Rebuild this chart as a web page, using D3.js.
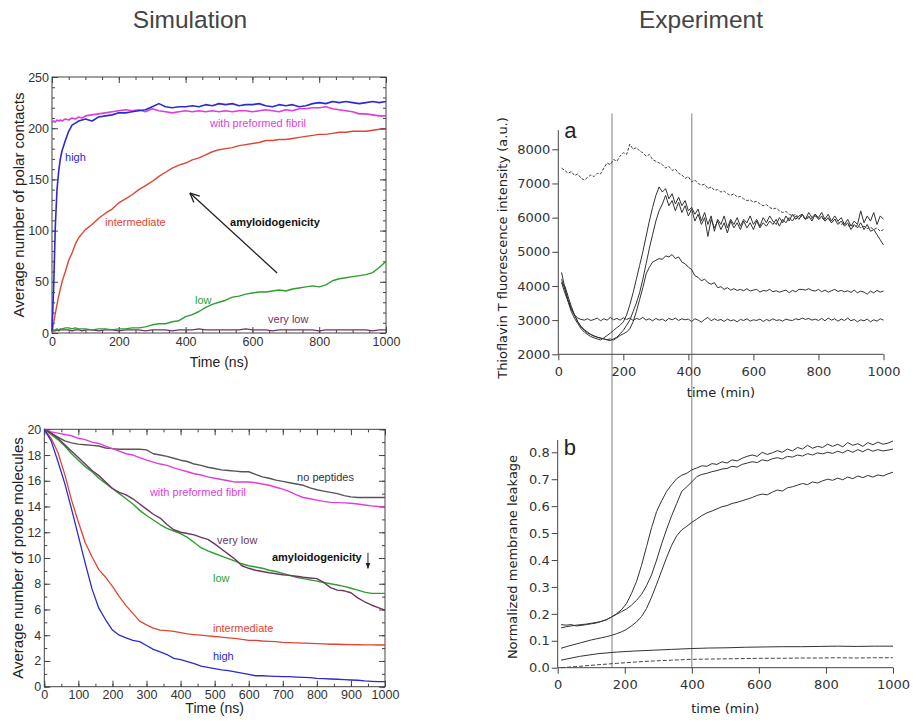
<!DOCTYPE html>
<html>
<head>
<meta charset="utf-8">
<script src="https://cdn.jsdelivr.net/npm/d3@7"></script>
<style>
  body { margin: 0; background: #fff; }
  svg { display: block; }
</style>
</head>
<body>
<svg id="fig" width="913" height="727"></svg>
<script>
// ---------- Simulation: polar contacts (ns) ----------
const contactTime = [0, 5, 10, 15, 20, 25, 30, 40, 50, 60, 70, 80, 90, 100].concat(d3.range(120, 1001, 20));
const contactHigh = [2,45,105,140,158,170,178,188,197,203,205,207,208,209,
  207,211,212,213,215,215,216,217,218,221, 224,221,220,221,221,222,221,223,222,224,
  223,224,222,223,223,224,222,221,223,222, 223,221,222,224,225,224,226,225,226,225,
  224,225,226,225,226];
const contactFibril = [206,207,206,208,207,208,207,209,208,210,209,211,210,212,
  213,214,215,216,217,218,217,218,216,219, 217,216,215,216,217,216,217,216,217,216,
  217,216,217,217,216,217,218,217,216,218, 217,219,219,220,220,221,219,218,217,216,
  214,214,213,212,212];
const contactInter = [0,10,19,28,36,43,50,60,71,78,87,93,97,101,
  106,112,117,121,127,131,135,140,144,148, 153,157,161,164,166,169,171,174,177,179,
  180,181,183,184,185,186,188,188,189,189, 190,191,192,193,194,194,195,196,196,197,
  197,197,198,199,199];
const contactLow = [2,3,3,4,3,4,4,5,5,4,5,4,4,4,
  3,4,4,3,4,4,5,5,6,8, 9,9,11,12,16,18,21,25,28,30,
  32,35,36,38,39,40,40,41,42,41, 43,44,45,46,45,47,51,53,54,55,
  56,57,59,64,70];
const contactVeryLow = [1,2,2,3,2,3,3,3,3,2,3,3,2,3,
  3,2,3,3,2,3,3,3,2,3, 3,3,2,3,3,3,4,3,3,3,
  3,3,3,4,3,3,3,2,3,3, 3,3,3,3,2,3,3,3,3,3,
  3,3,2,3,3];

// ---------- Simulation: probe molecules (ns) ----------
const probeTime = d3.range(0, 1001, 20);
const probeHigh = [20,19.1,17.5,15.8,13.8,11.7,9.6,7.6,6.1,5.2,
  4.4,4.0,3.8,3.6,3.5,3.2,2.9,2.7,2.5,2.2, 2.1,1.95,1.8,1.6,1.5,1.4,1.3,1.25,1.15,1.05,
  0.95,0.85,0.85,0.82,0.8,0.78,0.78,0.75,0.72,0.7, 0.65,0.62,0.6,0.58,0.55,0.52,0.5,0.45,0.42,0.4, 0.4];
const probeInter = [20,19.3,18.2,16.5,14.5,12.8,11.2,10.1,9.1,8.5,
  7.8,7.0,6.3,5.7,5.1,4.8,4.55,4.4,4.35,4.3, 4.2,4.1,4.05,4.0,3.95,3.9,3.85,3.8,3.75,3.68,
  3.6,3.6,3.55,3.52,3.5,3.45,3.42,3.4,3.38,3.36, 3.34,3.32,3.3,3.3,3.28,3.27,3.26,3.25,3.25,3.24, 3.24];
const probeLow = [20,19.6,19.2,18.7,18.1,17.6,17.1,16.7,16.2,15.8,
  15.4,15.0,14.6,14.2,13.7,13.3,12.95,12.6,12.3,12.1, 11.9,11.6,11.2,10.8,10.55,10.35,10.15,9.95,9.75,9.55,
  9.4,9.3,9.2,9.05,8.95,8.8,8.65,8.5,8.4,8.3, 8.2,8.1,8.0,7.9,7.8,7.65,7.5,7.35,7.25,7.25, 7.25];
const probeVeryLow = [20,19.7,19.3,18.8,18.3,17.8,17.3,16.8,16.4,15.9,
  15.4,15.1,14.9,14.6,14.2,13.8,13.4,13.1,12.6,12.2, 12.0,11.9,11.8,11.6,11.45,11.1,10.7,10.3,9.9,9.4,
  9.2,9.05,8.95,8.85,8.78,8.7,8.65,8.58,8.5,8.45, 8.4,8.1,7.7,7.5,7.45,7.3,6.9,6.6,6.35,6.15, 5.95];
const probeFibril = [20,19.8,19.7,19.6,19.5,19.3,19.2,19.0,18.9,18.7,
  18.5,18.3,18.1,18.0,17.8,17.6,17.45,17.3,17.2,17.0, 16.85,16.7,16.55,16.45,16.3,16.2,16.1,16.0,15.9,15.9,
  15.9,15.85,15.75,15.65,15.5,15.35,15.15,14.9,14.7,14.6, 14.5,14.4,14.32,14.3,14.28,14.25,14.2,14.12,14.05,14.0, 13.95];
const probeNoPeptide = [20,19.7,19.4,19.1,18.95,18.85,18.8,18.75,18.7,18.55,
  18.5,18.45,18.45,18.45,18.45,18.4,18.1,18.0,17.9,17.75, 17.6,17.5,17.3,17.2,17.05,16.95,16.85,16.8,16.75,16.7,
  16.7,16.5,16.3,16.2,16.05,15.95,15.85,15.75,15.65,15.45, 15.3,15.2,15.1,15.0,14.85,14.75,14.7,14.7,14.7,14.7, 14.7];

// ---------- Experiment a: ThT fluorescence (min) ----------
const thtTime = d3.range(10, 1001, 10);
const thtDashed = [7450,7380,7300,7350,7230,7280,7150,7100,7180,7250,
  7200,7300,7280,7450,7600,7550,7700,7650,7800,7900, 7850,8150,8000,8050,7950,7900,7800,7850,7700,7650,
  7600,7550,7450,7500,7380,7420,7300,7250,7150,7200, 7050,7100,7000,6950,6980,6850,6900,6800,6820,6750,
  6780,6700,6650,6700,6600,6620,6550,6500,6520,6450, 6480,6400,6350,6380,6300,6250,6280,6200,6150,6180,
  6100,6050,6100,6000,6050,5950,6000,5980,6050,5950, 6000,5900,5980,5850,5950,5880,5800,5850,5750,5800,
  5720,5780,5700,5750,5680,5720,5650,5700,5600,5650];
const thtA = [4200,3900,3550,3250,3050,2900,2750,2650,2580,2520,
  2480,2450,2420,2480,2550,2620,2700,2780,2850,2950, 3150,3450,3800,4200,4600,5000,5450,5900,6300,6650,
  6900,6750,6850,6550,6700,6400,6600,6350,6500,6200, 6300,6100,6250,5900,6150,5800,6050,5600,5950,5800,
  6050,5700,5950,5800,6000,5750,5950,5850,6050,5800, 5950,5750,6000,5850,6050,5900,5800,6000,5850,6050,
  5900,6100,5950,6050,6100,5950,6150,6000,6100,6000, 6150,5950,6100,5900,6050,5900,6000,5800,5950,5750,
  5900,5800,6200,5850,6050,5900,6150,5800,6050,5950];
const thtB = [4100,4000,3700,3400,3150,2950,2800,2700,2620,2580,
  2540,2500,2480,2450,2420,2400,2450,2500,2600,2700, 2850,3000,3250,3500,3800,4200,4650,5100,5500,5900,
  6200,6400,6650,6350,6500,6200,6450,6150,6350,6050, 6250,5900,6100,5800,6000,5450,5950,5700,5900,5650,
  5850,5550,5900,5700,5850,5650,5900,5700,5850,5650, 5900,5700,5850,5750,5900,5800,5950,5750,5950,5850,
  6000,5900,6050,5950,6100,5950,6050,5900,6100,5950, 6050,5900,6000,5850,5950,5800,5900,5750,5850,5650,
  5800,5700,5850,5650,5800,5600,5650,5500,5350,5200];
const thtPeak = [4400,3950,3600,3350,3150,2950,2820,2720,2650,2580,
  2530,2500,2470,2450,2430,2450,2420,2480,2550,2600, 2650,2750,2950,3250,3600,3950,4350,4550,4700,4750,
  4800,4780,4880,4850,4920,4800,4850,4700,4650,4550, 4480,4300,4250,4150,4200,4100,4050,4100,3950,3980,
  3900,3950,3880,3920,3870,3900,3860,3920,3850,3880, 3900,3820,3870,3850,3900,3830,3860,3820,3850,3880,
  3800,3870,3830,3900,3900,3880,3920,3870,3850,3900, 3830,3880,3820,3860,3900,3840,3870,3830,3860,3810,
  3880,3800,3850,3820,3760,3850,3800,3870,3820,3850];
const thtFlat = [4100,3800,3550,3300,3150,3060,3020,3000,3040,2990,
  3020,3060,2980,3040,3000,3080,3010,3050,3000,3070, 3020,3060,2990,3050,3020,3080,3000,3040,2980,3050,
  3000,3030,2970,3050,3010,3060,2990,3040,3010,3030, 2960,3040,3000,2940,3020,3080,2980,3040,2990,3020,
  2960,3030,2980,3010,2950,3020,2990,3040,2970,3010, 2990,3030,2960,3020,2980,3040,2990,3010,2970,3030,
  3000,2990,3040,3010,3060,3020,3050,3000,3030,2990, 3050,2980,3060,3000,3040,2970,3030,2990,3060,2980,
  3020,2950,3010,2980,3030,2950,3010,2970,3040,3000];

// ---------- Experiment b: membrane leakage (min) ----------
const leakTime = d3.range(10, 1001, 15);
const leak1 = [.160,.158,.160,.155,.157,.160,.163,.166,.172,.178,
  .188,.200,.215,.238,.275,.320,.380,.450,.520,.580, .620,.655,.680,.702,.715,.722,.735,.742,.750,.748,
  .758,.755,.765,.760,.772,.768,.778,.785,.790,.785, .800,.792,.798,.806,.800,.812,.805,.818,.812,.826,
  .815,.822,.818,.830,.822,.830,.820,.836,.826,.832, .822,.836,.828,.838,.830,.834,.842];
const leak2 = [.148,.152,.155,.158,.160,.162,.165,.168,.172,.178,
  .188,.198,.208,.218,.232,.250,.272,.305,.345,.400, .460,.515,.565,.610,.655,.672,.690,.710,.718,.722,
  .728,.732,.738,.740,.748,.745,.755,.760,.765,.762, .772,.768,.776,.780,.775,.785,.782,.790,.786,.795,
  .790,.798,.794,.800,.796,.804,.798,.808,.800,.810, .802,.812,.804,.810,.805,.808,.812];
const leak3 = [.072,.078,.083,.088,.093,.098,.103,.107,.111,.115,
  .120,.126,.133,.142,.155,.170,.190,.220,.262,.310, .360,.410,.455,.490,.512,.525,.540,.552,.565,.575,
  .582,.590,.598,.602,.610,.614,.620,.626,.632,.640, .645,.642,.652,.660,.656,.668,.672,.678,.684,.680,
  .690,.686,.694,.700,.696,.704,.698,.708,.702,.712, .706,.714,.708,.716,.712,.720,.726];
const leakLowTime = d3.range(10, 1001, 55);
const leak4 = [.028,.042,.052,.058,.062,.065,.068,.071,.073,.074,.076,.077,.078,.078,.079,.080,.079,.080,.080];
const leak5 = [.000,.005,.011,.016,.021,.025,.028,.031,.032,.033,.034,.035,.035,.036,.036,.037,.036,.037,.037];

// reference times marked across both experiment panels
const markerTimes = [162, 400];

// ---------- drawing ----------
const SANS = "'Liberation Sans', Arial, Helvetica, sans-serif";
const DV = "'DejaVu Sans', Verdana, sans-serif";
const C = { blue: '#2b2bd0', magenta: '#dd3ddd', red: '#e04434', green: '#2f9e30', purple: '#6d3563', gray: '#555' };

const svg = d3.select('#fig');
const defs = svg.append('defs');
defs.append('marker').attr('id', 'headOpen').attr('viewBox', '0 0 10 10')
  .attr('refX', 9.5).attr('refY', 5).attr('markerWidth', 11).attr('markerHeight', 11)
  .attr('markerUnits', 'userSpaceOnUse').attr('orient', 'auto')
  .append('path').attr('d', 'M1,1 L9.5,5 L1,9').attr('fill', 'none').attr('stroke', '#222').attr('stroke-width', 1.2);
defs.append('marker').attr('id', 'headSmall').attr('viewBox', '0 0 10 10')
  .attr('refX', 9).attr('refY', 5).attr('markerWidth', 6).attr('markerHeight', 6)
  .attr('markerUnits', 'userSpaceOnUse').attr('orient', 'auto')
  .append('path').attr('d', 'M0,1 L10,5 L0,9 Z').attr('fill', '#222');

// column titles
svg.append('text').attr('x', 190).attr('y', 28).attr('text-anchor', 'middle')
  .style('font-family', SANS).style('font-size', '24.5px').attr('fill', '#444').text('Simulation');
svg.append('text').attr('x', 701).attr('y', 28).attr('text-anchor', 'middle')
  .style('font-family', SANS).style('font-size', '24.5px').attr('fill', '#444').text('Experiment');

function styleAxis(sel, font, size) {
  sel.selectAll('.domain').remove();
  sel.selectAll('.tick line').attr('stroke', '#444');
  sel.selectAll('.tick text').attr('fill', '#333').style('font-family', font).style('font-size', size);
}

// boxed simulation panel with inward ticks on all sides
function simFrame(x, y, o) {
  const g = svg.append('g');
  const [x0, x1] = x.range(), [y0, y1] = y.range();
  g.append('rect').attr('x', x0).attr('y', y1).attr('width', x1 - x0).attr('height', y0 - y1)
    .attr('fill', 'none').attr('stroke', '#444').attr('stroke-width', 1);
  const major = (ax, vals, fmt) => ax.tickValues(vals).tickSize(-6).tickSizeOuter(0).tickFormat(fmt);
  const minor = (ax, vals) => ax.tickValues(vals).tickSize(-3).tickSizeOuter(0).tickFormat('');
  g.append('g').attr('transform', `translate(0,${y0})`).call(minor(d3.axisBottom(x), o.xMinor)).call(styleAxis, SANS, '12.5px');
  g.append('g').attr('transform', `translate(0,${y0})`).call(major(d3.axisBottom(x), o.xMajor, d3.format('d')).tickPadding(o.xPad)).call(styleAxis, SANS, '12.5px');
  g.append('g').attr('transform', `translate(0,${y1})`).call(minor(d3.axisTop(x), o.xMinor)).call(styleAxis, SANS, '12.5px');
  g.append('g').attr('transform', `translate(0,${y1})`).call(major(d3.axisTop(x), o.xMajor, '')).call(styleAxis, SANS, '12.5px');
  g.append('g').attr('transform', `translate(${x0},0)`).call(minor(d3.axisLeft(y), o.yMinor)).call(styleAxis, SANS, '12.5px');
  g.append('g').attr('transform', `translate(${x0},0)`).call(major(d3.axisLeft(y), o.yMajor, d3.format('d')).tickPadding(3)).call(styleAxis, SANS, '12.5px');
  g.append('g').attr('transform', `translate(${x1},0)`).call(minor(d3.axisRight(y), o.yMinor)).call(styleAxis, SANS, '12.5px');
  g.append('g').attr('transform', `translate(${x1},0)`).call(major(d3.axisRight(y), o.yMajor, '')).call(styleAxis, SANS, '12.5px');
  g.append('text').attr('x', (x0 + x1) / 2).attr('y', o.xLabelY).attr('text-anchor', 'middle')
    .style('font-family', SANS).style('font-size', '14px').attr('fill', '#222').text(o.xLabel);
  g.append('text').attr('transform', `translate(${o.yLabelX},${(y0 + y1) / 2}) rotate(-90)`).attr('text-anchor', 'middle')
    .style('font-family', SANS).style('font-size', '15px').attr('fill', '#222').text(o.yLabel);
  return g;
}

function series(g, x, y, t, v, color, width, dash) {
  g.append('path').datum(d3.zip(t, v))
    .attr('d', d3.line().x(d => x(d[0])).y(d => y(d[1])))
    .attr('fill', 'none').attr('stroke', color).attr('stroke-width', width)
    .attr('stroke-linejoin', 'round').attr('stroke-dasharray', dash || null);
}

function note(g, x, y, t, v, text, color, bold) {
  g.append('text').attr('x', x(t)).attr('y', y(v))
    .style('font-family', SANS).style('font-size', '11px').style('font-weight', bold ? 'bold' : 'normal')
    .attr('fill', color).text(text);
}

// ---- top-left: polar contacts ----
const xC = d3.scaleLinear().domain([0, 1000]).range([52, 386]);
const yC = d3.scaleLinear().domain([0, 250]).range([333, 77]);
const gC = simFrame(xC, yC, {
  xMajor: d3.range(0, 1001, 200), xMinor: d3.range(0, 1001, 50),
  yMajor: d3.range(0, 251, 50), yMinor: d3.range(0, 251, 10),
  xPad: 4, xLabel: 'Time (ns)', xLabelY: 367,
  yLabel: 'Average number of polar contacts', yLabelX: 24
});
series(gC, xC, yC, contactTime, contactVeryLow, C.purple, 1.3);
series(gC, xC, yC, contactTime, contactLow, C.green, 1.4);
series(gC, xC, yC, contactTime, contactInter, C.red, 1.4);
series(gC, xC, yC, contactTime, contactFibril, C.magenta, 1.6);
series(gC, xC, yC, contactTime, contactHigh, C.blue, 1.6);
note(gC, xC, yC, 39, 168, 'high', C.blue);
note(gC, xC, yC, 473, 201, 'with preformed fibril', C.magenta);
note(gC, xC, yC, 159, 104.5, 'intermediate', C.red);
note(gC, xC, yC, 533, 104.5, 'amyloidogenicity', '#111', true);
note(gC, xC, yC, 428, 28, 'low', C.green);
note(gC, xC, yC, 647, 9.8, 'very low', C.purple);
gC.append('line').attr('x1', xC(674)).attr('y1', yC(58.6)).attr('x2', xC(413)).attr('y2', yC(136.7))
  .attr('stroke', '#222').attr('stroke-width', 1.3).attr('marker-end', 'url(#headOpen)');

// ---- bottom-left: probe molecules ----
const xP = d3.scaleLinear().domain([0, 1000]).range([44.3, 385]);
const yP = d3.scaleLinear().domain([0, 20]).range([686.7, 429.3]);
const gP = simFrame(xP, yP, {
  xMajor: d3.range(0, 1001, 100), xMinor: d3.range(0, 1001, 50),
  yMajor: d3.range(0, 21, 2), yMinor: d3.range(0, 21, 1),
  xPad: 3, xLabel: 'Time (ns)', xLabelY: 713,
  yLabel: 'Average number of probe molecules', yLabelX: 23
});
series(gP, xP, yP, probeTime, probeNoPeptide, C.gray, 1.4);
series(gP, xP, yP, probeTime, probeFibril, C.magenta, 1.4);
series(gP, xP, yP, probeTime, probeLow, C.green, 1.4);
series(gP, xP, yP, probeTime, probeVeryLow, C.purple, 1.4);
series(gP, xP, yP, probeTime, probeInter, C.red, 1.3);
series(gP, xP, yP, probeTime, probeHigh, C.blue, 1.3);
note(gP, xP, yP, 742, 16.0, 'no peptides', '#333');
note(gP, xP, yP, 310, 14.8, 'with preformed fibril', C.magenta);
note(gP, xP, yP, 507, 11.1, 'very low', C.purple);
note(gP, xP, yP, 668, 9.77, 'amyloidogenicity', '#111', true);
note(gP, xP, yP, 495, 8.1, 'low', C.green);
note(gP, xP, yP, 495, 4.25, 'intermediate', C.red);
note(gP, xP, yP, 495, 2.07, 'high', C.blue);
gP.append('line').attr('x1', xP(950)).attr('y1', yP(10.4)).attr('x2', xP(950)).attr('y2', yP(9.2))
  .attr('stroke', '#222').attr('stroke-width', 1).attr('marker-end', 'url(#headSmall)');

// ---- experiment panels (open axes, outward ticks) ----
function expAxes(x, y, o) {
  const g = svg.append('g');
  const [x0, x1] = x.range();
  const yb = y(o.yMin);
  g.append('g').attr('transform', `translate(0,${yb})`)
    .call(d3.axisBottom(x).tickValues(d3.range(0, 1001, 200)).tickSize(6).tickSizeOuter(0).tickPadding(6).tickFormat(d3.format('d')))
    .call(styleAxis, DV, '13px');
  g.append('g').attr('transform', `translate(${x0},0)`)
    .call(d3.axisLeft(y).tickValues(o.yTicks).tickSize(6).tickSizeOuter(0).tickPadding(2).tickFormat(o.yFmt))
    .call(styleAxis, DV, '13px');
  g.append('line').attr('x1', x0).attr('x2', x1).attr('y1', yb).attr('y2', yb).attr('stroke', '#444');
  g.append('line').attr('x1', x0).attr('x2', x0).attr('y1', yb).attr('y2', y(o.yTop)).attr('stroke', '#444');
  g.append('text').attr('x', (x0 + x1) / 2).attr('y', o.xLabelY).attr('text-anchor', 'middle')
    .style('font-family', DV).style('font-size', '13px').attr('fill', '#222').text('time (min)');
  g.append('text').attr('transform', `translate(${o.yLabelX},${o.yLabelCY}) rotate(-90)`).attr('text-anchor', 'middle')
    .style('font-family', DV).style('font-size', '13px').attr('fill', '#222').text(o.yLabel);
  g.append('text').attr('x', x0 + 6).attr('y', o.letterY)
    .style('font-family', SANS).style('font-size', '22px').attr('fill', '#222').text(o.letter);
  return g;
}

const xT = d3.scaleLinear().domain([0, 1000]).range([558.3, 883.5]);
const yT = d3.scaleLinear().domain([2000, 8000]).range([354.3, 149.3]);
const xL = d3.scaleLinear().domain([0, 1000]).range([557.7, 893]);
const yL = d3.scaleLinear().domain([0, 0.8]).range([667.7, 452.3]);

// vertical reference lines spanning both experiment panels
svg.append('g').selectAll('line').data(markerTimes).join('line')
  .attr('x1', d => xL(d)).attr('x2', d => xL(d))
  .attr('y1', yT(9050)).attr('y2', yL(0))
  .attr('stroke', '#8a8a8a').attr('stroke-width', 1.1);

const gT = expAxes(xT, yT, {
  yMin: 2000, yTop: 8560, yTicks: d3.range(2000, 8001, 1000), yFmt: d3.format('d'),
  xLabelY: 397, yLabel: 'Thioflavin T fluorescence intensity (a.u.)', yLabelX: 507, yLabelCY: 248,
  letter: 'a', letterY: 138
});
series(gT, xT, yT, thtTime, thtDashed, '#444', 1, '3,1.5');
series(gT, xT, yT, thtTime, thtFlat, '#333', 1);
series(gT, xT, yT, thtTime, thtPeak, '#333', 1);
series(gT, xT, yT, thtTime, thtB, '#333', 1);
series(gT, xT, yT, thtTime, thtA, '#333', 1);

const gL = expAxes(xL, yL, {
  yMin: 0, yTop: 0.846, yTicks: d3.range(0, 9).map(i => i / 10), yFmt: d3.format('.1f'),
  xLabelY: 713, yLabel: 'Normalized membrane leakage', yLabelX: 517, yLabelCY: 557,
  letter: 'b', letterY: 455
});
series(gL, xL, yL, leakLowTime, leak5, '#444', 1, '4,2');
series(gL, xL, yL, leakLowTime, leak4, '#333', 1);
series(gL, xL, yL, leakTime, leak3, '#333', 1);
series(gL, xL, yL, leakTime, leak2, '#333', 1);
series(gL, xL, yL, leakTime, leak1, '#333', 1);
</script>
</body>
</html>
